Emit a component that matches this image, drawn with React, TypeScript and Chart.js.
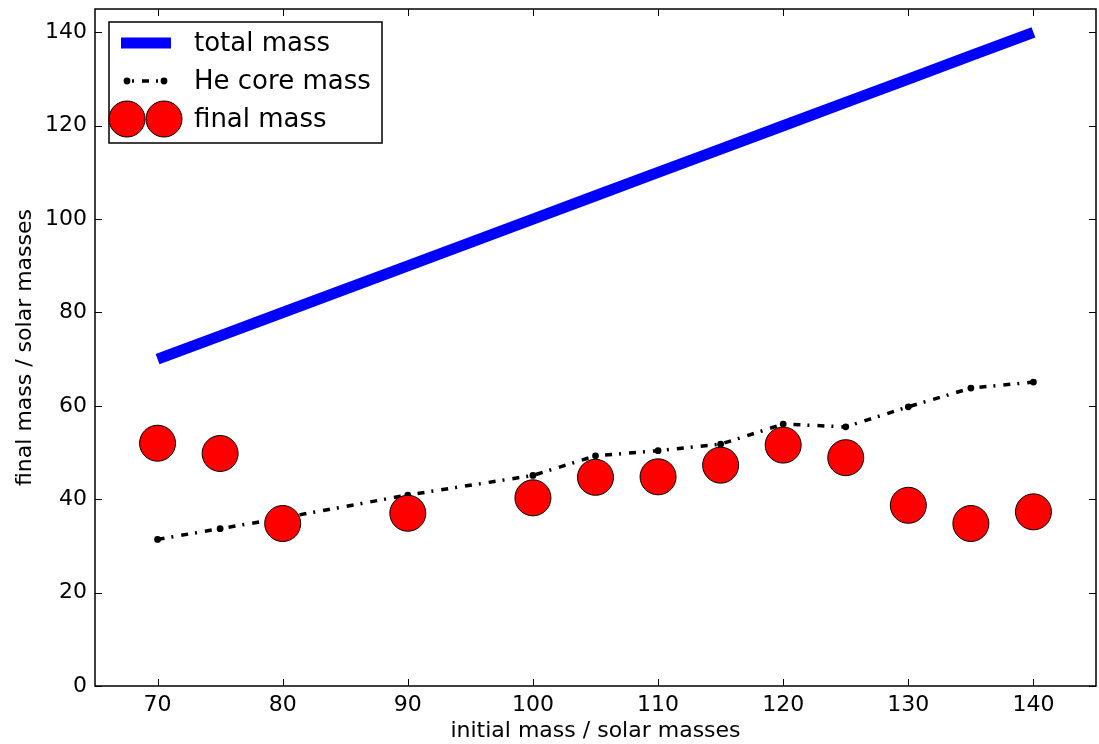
import React, { useEffect, useRef } from "react";
import { Chart, registerables } from "chart.js";

Chart.register(...registerables);

const initialMass = [70, 75, 80, 90, 100, 105, 110, 115, 120, 125, 130, 135, 140];
const totalMass = [70, 75, 80, 90, 100, 105, 110, 115, 120, 125, 130, 135, 140];
const heCoreMass = [31.4, 33.7, 36.0, 40.9, 45.1, 49.3, 50.4, 51.8, 56.1, 55.5, 59.8, 63.8, 65.1];
const finalMass = [52.0, 49.8, 34.8, 37.0, 40.3, 44.7, 44.8, 47.3, 51.6, 48.9, 38.7, 34.8, 37.3];
const xTicks = [70, 80, 90, 100, 110, 120, 130, 140];
const yTicks = [0, 20, 40, 60, 80, 100, 120, 140];
const seriesLabels = ["total mass", "He core mass", "final mass"];
const xTitle = "initial mass / solar masses";
const yTitle = "final mass / solar masses";

const FONT = "'DejaVu Sans', sans-serif";
const HE_DASH = [7, 7, 2, 8];

const framePlugin = {
  id: "mplFrame",
  afterDraw(chart: any) {
    const { ctx, chartArea: a, scales } = chart;
    ctx.save();
    // inward ticks on all four sides
    ctx.strokeStyle = "#000";
    ctx.lineWidth = 1;
    const L = 7;
    ctx.beginPath();
    for (const t of scales.x.ticks) {
      const px = Math.round(scales.x.getPixelForValue(t.value)) + 0.5;
      ctx.moveTo(px, a.bottom);
      ctx.lineTo(px, a.bottom - L);
      ctx.moveTo(px, a.top);
      ctx.lineTo(px, a.top + L);
    }
    for (const t of scales.y.ticks) {
      const py = Math.round(scales.y.getPixelForValue(t.value)) + 0.5;
      ctx.moveTo(a.left, py);
      ctx.lineTo(a.left + L, py);
      ctx.moveTo(a.right, py);
      ctx.lineTo(a.right - L, py);
    }
    ctx.stroke();
    ctx.lineWidth = 1.5;
    ctx.strokeRect(a.left, a.top, a.right - a.left, a.bottom - a.top);

    // legend
    const ds = chart.data.datasets;
    const bx = a.left + 14;
    const by = a.top + 13;
    const bw = 273;
    const bh = 121;
    ctx.fillStyle = "#fff";
    ctx.fillRect(bx, by, bw, bh);
    ctx.strokeStyle = "#000";
    ctx.lineWidth = 1.5;
    ctx.strokeRect(bx, by, bw, bh);
    const rows = [by + 21, by + 59, by + 97];
    const x0 = bx + 12;
    const x1 = bx + 62;
    // total mass
    ctx.beginPath();
    ctx.strokeStyle = ds[0].borderColor;
    ctx.lineWidth = ds[0].borderWidth;
    ctx.moveTo(x0, rows[0]);
    ctx.lineTo(x1, rows[0]);
    ctx.stroke();
    // He core
    ctx.beginPath();
    ctx.setLineDash(HE_DASH);
    ctx.lineDashOffset = 9;
    ctx.strokeStyle = ds[1].borderColor;
    ctx.lineWidth = ds[1].borderWidth;
    ctx.moveTo(bx + 18, rows[1]);
    ctx.lineTo(bx + 55, rows[1]);
    ctx.stroke();
    ctx.setLineDash([]);
    ctx.fillStyle = ds[1].pointBackgroundColor;
    for (const cx of [bx + 18, bx + 55]) {
      ctx.beginPath();
      ctx.arc(cx, rows[1], ds[1].pointRadius, 0, Math.PI * 2);
      ctx.fill();
    }
    // final mass
    for (const cx of [bx + 18, bx + 55]) {
      ctx.beginPath();
      ctx.arc(cx, rows[2], ds[2].pointRadius, 0, Math.PI * 2);
      ctx.fillStyle = ds[2].backgroundColor;
      ctx.fill();
      ctx.lineWidth = ds[2].borderWidth;
      ctx.strokeStyle = ds[2].borderColor;
      ctx.stroke();
    }
    ctx.fillStyle = "#000";
    ctx.font = `26px ${FONT}`;
    ctx.textBaseline = "middle";
    ctx.textAlign = "left";
    seriesLabels.forEach((lab, i) => ctx.fillText(lab, bx + 85, rows[i] + 1));
    ctx.restore();
  },
};

export default function App() {
  const ref = useRef<HTMLCanvasElement | null>(null);

  useEffect(() => {
    if (!ref.current) return;
    const chart = new Chart(ref.current, {
      type: "scatter",
      data: {
        datasets: [
          {
            label: seriesLabels[0],
            data: initialMass.map((x, i) => ({ x, y: totalMass[i] })),
            showLine: true,
            borderColor: "#0000ff",
            backgroundColor: "#0000ff",
            borderWidth: 11,
            pointRadius: 0,
            borderCapStyle: "butt",
            order: 2,
          },
          {
            label: seriesLabels[1],
            data: initialMass.map((x, i) => ({ x, y: heCoreMass[i] })),
            showLine: true,
            borderColor: "#000000",
            borderWidth: 3.5,
            borderDash: HE_DASH,
            pointRadius: 3.4,
            pointBackgroundColor: "#000000",
            pointBorderColor: "#000000",
            pointBorderWidth: 0,
            order: 1,
          },
          {
            label: seriesLabels[2],
            data: initialMass.map((x, i) => ({ x, y: finalMass[i] })),
            showLine: false,
            backgroundColor: "#ff0000",
            borderColor: "#000000",
            borderWidth: 1,
            pointRadius: 18,
            order: 0,
          },
        ],
      },
      options: {
        animation: false,
        responsive: true,
        maintainAspectRatio: false,
        layout: { autoPadding: false, padding: { top: 9, right: 3, left: 0, bottom: 0 } },
        plugins: { legend: { display: false }, tooltip: { enabled: false } },
        scales: {
          x: {
            type: "linear",
            min: 65,
            max: 145,
            afterBuildTicks: (s: any) => {
              s.ticks = xTicks.map((v) => ({ value: v }));
            },
            afterFit: (s: any) => {
              s.height = 58;
              s.paddingLeft = 0;
              s.paddingRight = 0;
              s.paddingTop = 0;
              s.paddingBottom = 0;
            },
            grid: { display: false, drawTicks: false },
            border: { display: false },
            ticks: { color: "#000", font: { family: FONT, size: 22 }, padding: 6, maxRotation: 0 },
            title: {
              display: true,
              text: xTitle,
              color: "#000",
              font: { family: FONT, size: 22 },
              padding: 0,
            },
          },
          y: {
            type: "linear",
            min: 0,
            max: 145,
            afterBuildTicks: (s: any) => {
              s.ticks = yTicks.map((v) => ({ value: v }));
            },
            afterFit: (s: any) => {
              s.width = 95;
              s.paddingLeft = 0;
              s.paddingRight = 0;
              s.paddingTop = 0;
              s.paddingBottom = 0;
            },
            grid: { display: false, drawTicks: false },
            border: { display: false },
            ticks: { color: "#000", font: { family: FONT, size: 22 }, padding: 8 },
            title: {
              display: true,
              text: yTitle,
              color: "#000",
              font: { family: FONT, size: 22 },
              padding: { top: 12, bottom: 0 },
            },
          },
        },
      },
      plugins: [framePlugin],
    } as any);
    return () => chart.destroy();
  }, []);

  return (
    <div style={{ position: "fixed", left: 0, top: 0, width: 1099, height: 744, background: "#fff" }}>
      <canvas ref={ref} />
    </div>
  );
}
